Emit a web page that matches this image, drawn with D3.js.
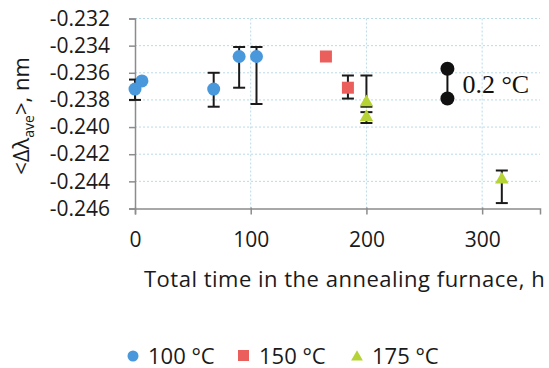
<!DOCTYPE html>
<html>
<head>
<meta charset="utf-8">
<script src="https://cdn.jsdelivr.net/npm/d3@7"></script>
<style>
  body { margin: 0; background: #fff; }
  svg { display: block; }
</style>
</head>
<body>
<div id="chart"></div>
<script>
// 100 °C series
const t100 = [0, 6, 68, 90, 105]
const v100 = [-0.2372, -0.2366, -0.2372, -0.2348, -0.2348]
const lo100 = [-0.2380, null, -0.2385, -0.2371, -0.2383]
const hi100 = [-0.2365, null, -0.2360, -0.2341, -0.2341]

// 150 °C series
const t150 = [165, 184]
const v150 = [-0.2348, -0.2371]
const lo150 = [null, -0.2379]
const hi150 = [null, -0.2362]

// 175 °C series
const t175 = [200, 200, 317]
const v175 = [-0.2381, -0.2392, -0.2438]
const lo175 = [-0.2385, -0.2397, -0.2456]
const hi175 = [-0.2362, -0.2389, -0.2432]

// 0.2 °C scale marker
const tScale = [270, 270]
const vScale = [-0.2357, -0.2379]

const yTicks = [-0.246, -0.244, -0.242, -0.240, -0.238, -0.236, -0.234, -0.232]
const xTicks = [0, 100, 200, 300]
const legendLabels = ['100 °C', '150 °C', '175 °C']

const width = 549
const height = 368
const font = '"Open Sans", "Noto Sans", sans-serif'
const colors = { c100: '#4a98dc', c150: '#ea5f5c', c175: '#b5d334' }

const x = d3.scaleLinear().domain([0, 350]).range([135, 540])
const y = d3.scaleLinear().domain([-0.246, -0.232]).range([208.5, 18.5])

const svg = d3.select('#chart')
  .append('svg')
  .attr('width', width)
  .attr('height', height)

// gridlines
svg.append('g')
  .selectAll('line')
  .data(yTicks.slice(1))
  .join('line')
  .attr('x1', x(0))
  .attr('x2', x(350))
  .attr('y1', d => y(d))
  .attr('y2', d => y(d))
  .attr('stroke', '#b9dbe8')
  .attr('stroke-width', 1)
  .attr('stroke-dasharray', '2,2')

svg.append('g')
  .selectAll('line')
  .data(xTicks.slice(1))
  .join('line')
  .attr('x1', d => x(d))
  .attr('x2', d => x(d))
  .attr('y1', y(-0.232))
  .attr('y2', y(-0.246))
  .attr('stroke', '#b9dbe8')
  .attr('stroke-width', 1)
  .attr('stroke-dasharray', '2,2')

// axes
const fmtY = d => d.toFixed(3)
const yAxis = svg.append('g')
  .attr('transform', `translate(${x(0)},0)`)
  .call(d3.axisLeft(y).tickValues(yTicks).tickFormat(fmtY).tickSize(6).tickPadding(19))
const xAxis = svg.append('g')
  .attr('transform', `translate(0,${y(-0.246)})`)
  .call(d3.axisBottom(x).tickValues(xTicks).tickFormat(d3.format('d')).tickSize(6).tickPadding(18))

;[yAxis, xAxis].forEach(g => {
  g.select('.domain').attr('stroke', '#8c8c8c').attr('stroke-width', 1.5)
  g.selectAll('.tick line').attr('stroke', '#8c8c8c').attr('stroke-width', 1.5)
  g.selectAll('text')
    .attr('font-family', font)
    .attr('font-size', 21)
    .attr('fill', '#1a1a1a')
})
xAxis.selectAll('.tick line').attr('y1', -1)

// error bars
function errorBars(ts, lo, hi) {
  const rows = ts.map((t, i) => ({ t, lo: lo[i], hi: hi[i] })).filter(d => d.lo != null)
  const g = svg.append('g').attr('stroke', '#1a1a1a').attr('stroke-width', 2)
  g.selectAll('line.v').data(rows).join('line')
    .attr('x1', d => x(d.t)).attr('x2', d => x(d.t))
    .attr('y1', d => y(d.lo)).attr('y2', d => y(d.hi))
  g.selectAll('line.lo').data(rows).join('line')
    .attr('x1', d => x(d.t) - 6).attr('x2', d => x(d.t) + 6)
    .attr('y1', d => y(d.lo)).attr('y2', d => y(d.lo))
  g.selectAll('line.hi').data(rows).join('line')
    .attr('x1', d => x(d.t) - 6).attr('x2', d => x(d.t) + 6)
    .attr('y1', d => y(d.hi)).attr('y2', d => y(d.hi))
}
errorBars(t100, lo100, hi100)
errorBars(t150, lo150, hi150)
errorBars(t175, lo175, hi175)

// markers
svg.append('g')
  .selectAll('circle')
  .data(t100.map((t, i) => ({ t, v: v100[i] })))
  .join('circle')
  .attr('cx', d => x(d.t))
  .attr('cy', d => y(d.v))
  .attr('r', 6.5)
  .attr('fill', colors.c100)

svg.append('g')
  .selectAll('rect')
  .data(t150.map((t, i) => ({ t, v: v150[i] })))
  .join('rect')
  .attr('x', d => x(d.t) - 6)
  .attr('y', d => y(d.v) - 6)
  .attr('width', 12)
  .attr('height', 12)
  .attr('fill', colors.c150)

const tri = d3.symbol().type(d3.symbolTriangle).size(80)
svg.append('g')
  .selectAll('path')
  .data(t175.map((t, i) => ({ t, v: v175[i] })))
  .join('path')
  .attr('d', tri)
  .attr('transform', d => `translate(${x(d.t)},${y(d.v) + 1})`)
  .attr('fill', colors.c175)

// 0.2 °C scale
svg.append('line')
  .attr('x1', x(tScale[0])).attr('x2', x(tScale[1]))
  .attr('y1', y(vScale[0])).attr('y2', y(vScale[1]))
  .attr('stroke', '#111').attr('stroke-width', 2)
svg.append('g')
  .selectAll('circle')
  .data(tScale.map((t, i) => ({ t, v: vScale[i] })))
  .join('circle')
  .attr('cx', d => x(d.t))
  .attr('cy', d => y(d.v))
  .attr('r', 7)
  .attr('fill', '#111')
svg.append('text')
  .attr('x', x(tScale[0]) + 15)
  .attr('y', (y(vScale[0]) + y(vScale[1])) / 2 + 9)
  .attr('font-family', '"Liberation Serif", "Times New Roman", serif')
  .attr('font-size', 26)
  .attr('fill', '#111')
  .text('0.2 °C')

// axis titles
const yTitle = svg.append('text')
  .attr('transform', 'translate(29,116) rotate(-90)')
  .attr('text-anchor', 'middle')
  .attr('font-family', font)
  .attr('font-size', 22)
  .attr('fill', '#1a1a1a')
yTitle.append('tspan').text('<Δλ')
yTitle.append('tspan').attr('font-size', 14).attr('dy', 5).text('ave')
yTitle.append('tspan').attr('dy', -5).text('>, nm')

svg.append('text')
  .attr('x', 144)
  .attr('y', 287)
  .attr('font-family', font)
  .attr('font-size', 22)
  .attr('letter-spacing', 0.5)
  .attr('fill', '#1a1a1a')
  .text('Total time in the annealing furnace, h')

// legend
const legendX = [133, 244, 357]
const legend = svg.append('g').attr('font-family', font).attr('font-size', 22).attr('fill', '#1a1a1a')
legend.append('circle').attr('cx', legendX[0]).attr('cy', 356).attr('r', 5.5).attr('fill', colors.c100)
legend.append('rect').attr('x', legendX[1] - 6).attr('y', 350).attr('width', 11).attr('height', 11).attr('fill', colors.c150)
legend.append('path').attr('d', d3.symbol().type(d3.symbolTriangle).size(60)).attr('transform', `translate(${legendX[2]},357)`).attr('fill', colors.c175)
legend.selectAll('text')
  .data(legendLabels)
  .join('text')
  .attr('x', (d, i) => legendX[i] + 15)
  .attr('y', 363.5)
  .text(d => d)
</script>
</body>
</html>
